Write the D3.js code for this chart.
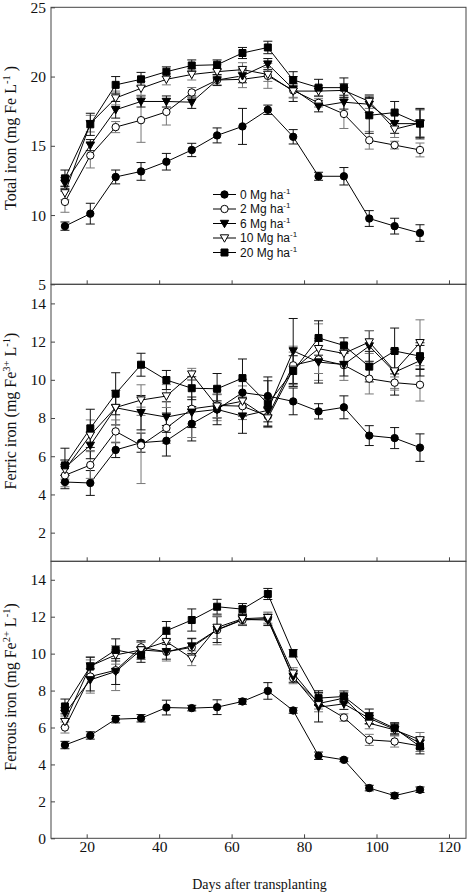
<!DOCTYPE html>
<html><head><meta charset="utf-8">
<script src="https://cdn.jsdelivr.net/npm/d3@7"></script>
<style>
html,body{margin:0;padding:0;background:#fff;}
svg{display:block;}
</style></head>
<body>
<script>
// ---------- DATA ----------
const days = [14,21,28,35,42,49,56,63,70,77,84,91,98,105,112];
const seriesLabels = ["0 Mg ha","2 Mg ha","6 Mg ha","10 Mg ha","20 Mg ha"];
const xTicks = [20,40,60,80,100,120];

// Total iron (mg Fe L-1)
const total0  = [9.2,10.1,12.75,13.15,13.85,14.7,15.75,16.4,17.6,15.65,12.8,12.8,9.75,9.2,8.7];
const total2  = [10.95,14.3,16.35,16.85,17.45,18.85,19.75,19.8,20.05,19.0,18.1,17.3,15.4,15.05,14.7];
const total6  = [12.3,15.05,17.6,18.2,18.2,18.15,19.75,20.05,20.9,19.1,17.85,18.15,18.0,16.6,16.6];
const total10 = [11.6,16.6,18.45,19.15,19.8,20.15,20.35,20.5,20.15,18.95,18.95,19.0,18.2,16.2,16.65];
const total20 = [12.65,16.55,19.4,19.8,20.35,20.8,20.85,21.7,22.1,19.75,19.2,19.2,17.2,17.4,16.6];
const totalErr0  = [0.3,0.75,0.5,0.64,0.6,0.48,0.54,1.3,0.34,0.52,0.29,0.63,0.57,0.57,0.6];
const totalErr2  = [0.75,0.9,0.4,1.6,0.95,0.36,0.35,0.6,0.9,0.5,0.3,1.05,0.64,0.28,0.5];
const totalErr6  = [0.4,0.4,0.6,0.4,0.4,0.45,0.4,0.5,0.4,0.9,0.4,0.5,0.6,0.7,1.0];
const totalErr10 = [0.5,0.6,0.5,0.5,0.4,0.4,0.5,0.5,0.5,0.5,0.4,0.5,0.5,0.6,1.0];
const totalErr20 = [0.6,0.8,0.6,0.5,0.35,0.4,0.35,0.4,0.45,0.6,0.6,0.7,1.3,0.8,1.1];

// Ferric iron (mg Fe3+ L-1)
const ferric0  = [4.65,4.6,6.33,6.71,6.81,7.7,8.45,9.33,9.15,8.87,8.35,8.56,7.08,6.95,6.45];
const ferric2  = [5.0,5.54,7.3,6.57,7.48,8.48,8.66,8.62,8.1,10.76,11.07,10.77,10.06,9.85,9.74];
const ferric6  = [5.4,6.57,8.54,8.28,8.05,8.3,8.45,8.1,8.4,11.51,10.93,10.8,11.77,10.4,11.0];
const ferric10 = [5.3,7.1,8.55,8.94,9.15,10.3,8.62,8.88,8.0,10.55,11.63,11.38,11.98,10.46,11.94];
const ferric20 = [5.52,7.46,9.27,10.79,9.99,9.56,9.53,10.09,8.75,10.46,12.19,11.8,10.69,11.51,11.24];
const ferricErr0  = [0.35,0.65,0.4,0.5,0.8,0.9,0.45,0.7,1.0,0.7,0.4,0.6,0.52,0.55,0.72];
const ferricErr2  = [0.6,0.7,0.6,2.0,0.8,1.5,0.8,0.7,0.5,1.0,1.1,0.8,0.8,0.3,0.85];
const ferricErr6  = [0.4,0.7,0.9,0.9,0.8,0.8,0.8,0.9,0.6,1.7,1.1,0.6,0.8,1.2,0.8];
const ferricErr10 = [0.5,0.8,0.9,0.8,0.6,0.3,0.6,0.8,0.5,0.9,1.3,0.5,0.6,1.0,1.2];
const ferricErr20 = [0.9,1.0,1.1,0.6,0.5,0.6,0.8,1.0,1.2,0.8,0.9,0.4,0.8,1.2,0.7];

// Ferrous iron (mg Fe2+ L-1)
const ferrous0  = [5.05,5.57,6.45,6.5,7.08,7.05,7.1,7.41,7.98,6.92,4.47,4.25,2.72,2.31,2.63];
const ferrous2  = [6.0,8.76,9.1,10.34,10.1,10.34,11.28,11.82,11.9,8.67,7.35,6.54,5.33,5.24,5.0];
const ferrous6  = [6.77,8.58,9.03,10.2,10.1,10.41,11.3,11.85,11.82,8.75,7.1,7.28,6.5,5.9,5.15];
const ferrous10 = [6.32,9.33,9.93,10.2,10.65,9.75,11.42,11.89,11.95,8.94,7.3,7.59,6.23,5.87,5.33];
const ferrous20 = [7.14,9.3,10.2,9.93,11.24,11.82,12.54,12.41,13.23,10.02,7.59,7.68,6.6,5.96,4.97];
const ferrousErr0  = [0.2,0.2,0.2,0.2,0.4,0.15,0.4,0.15,0.45,0.15,0.2,0.1,0.15,0.15,0.15];
const ferrousErr2  = [0.3,0.9,1.1,0.3,0.5,0.5,0.8,0.3,0.3,0.3,0.5,0.2,0.3,0.3,0.3];
const ferrousErr6  = [0.3,0.6,0.7,0.5,0.4,0.4,0.7,0.3,0.3,0.3,0.8,0.3,0.3,0.3,0.3];
const ferrousErr10 = [0.3,0.5,0.5,0.4,0.4,0.4,0.6,0.3,0.3,0.3,0.3,0.3,0.3,0.3,0.4];
const ferrousErr20 = [0.4,0.5,0.6,0.4,0.5,0.6,0.4,0.3,0.3,0.2,0.4,0.3,0.4,0.3,0.4];

const totalTicks = [5,10,15,20,25];
const ferricTicks = [2,4,6,8,10,12,14];
const ferrousTicks = [0,2,4,6,8,10,12,14];

// ---------- LAYOUT ----------
const W = 467, H = 893;
const left = 51, right = 466;
const serif = "'Liberation Serif','Times New Roman',serif";
const sans = "'Liberation Sans',Arial,sans-serif";

const svg = d3.select("body").append("svg").attr("width", W).attr("height", H);
const x = d3.scaleLinear().domain([10.15, 124.7]).range([left, right]);

const markerKinds = ["circleFilled","circleOpen","triFilled","triOpen","square"];
const errColors = ["#111","#777","#111","#777","#111"];

function markerPath(kind){
  if (kind.startsWith("circle")) return d3.symbol().type(d3.symbolCircle).size(Math.PI*3.7*3.7)();
  if (kind === "square") return "M-3.5,-3.5H3.5V3.5H-3.5Z";
  return "M-4.2,-3.2L4.2,-3.2L0,4.2Z";
}
function markerFill(kind){ return (kind === "circleOpen" || kind === "triOpen") ? "#fff" : "#000"; }

const panels = [
  {top:7.3, bottom:284.3, domain:[5,25], ticks:totalTicks, values:[total0,total2,total6,total10,total20],
   errs:[totalErr0,totalErr2,totalErr6,totalErr10,totalErr20],
   title:[["Total iron (mg Fe L",0],["-1",1],[" )",0]], titleY:138},
  {top:284.3, bottom:561.3, domain:[0.5,15], ticks:ferricTicks, values:[ferric0,ferric2,ferric6,ferric10,ferric20],
   errs:[ferricErr0,ferricErr2,ferricErr6,ferricErr10,ferricErr20],
   title:[["Ferric iron (mg Fe",0],["3+",1],[" L",0],["-1",1],[")",0]], titleY:411},
  {top:561.3, bottom:838.3, domain:[0,15], ticks:ferrousTicks, values:[ferrous0,ferrous2,ferrous6,ferrous10,ferrous20],
   errs:[ferrousErr0,ferrousErr2,ferrousErr6,ferrousErr10,ferrousErr20],
   title:[["Ferrous iron (mg Fe",0],["2+",1],[" L",0],["-1",1],[")",0]], titleY:687}
];

panels.forEach((p, pi) => {
  const y = d3.scaleLinear().domain(p.domain).range([p.bottom, p.top]);
  const g = svg.append("g");

  // frame
  g.append("rect").attr("x", left).attr("y", p.top).attr("width", right-left).attr("height", p.bottom-p.top)
    .attr("fill","none").attr("stroke","#444").attr("stroke-width",1);

  // y axis (ticks inward)
  const yAxis = d3.axisLeft(y).tickValues(p.ticks).tickSizeInner(-4).tickSizeOuter(0).tickPadding(5).tickFormat(d3.format("d"));
  const ya = g.append("g").attr("transform",`translate(${left},0)`).call(yAxis);
  ya.select(".domain").remove();
  ya.selectAll("line").attr("stroke","#444");
  ya.selectAll("text").attr("font-family",serif).attr("font-size",15.5).attr("fill","#111");

  // x axis ticks inward
  const xAxis = d3.axisBottom(x).tickValues(xTicks).tickSizeInner(-4).tickSizeOuter(0).tickPadding(3)
    .tickFormat(pi === 2 ? d3.format("d") : () => "");
  const xa = g.append("g").attr("transform",`translate(0,${p.bottom})`).call(xAxis);
  xa.select(".domain").remove();
  xa.selectAll("line").attr("stroke","#444");
  xa.selectAll("text").attr("font-family",serif).attr("font-size",15.5).attr("fill","#111");

  // y title
  const t = g.append("text").attr("transform",`translate(16,${p.titleY}) rotate(-90)`)
    .attr("text-anchor","middle").attr("font-family",serif).attr("font-size",16).attr("fill","#111");
  p.title.forEach(([s, sup], i) => {
    const prevSup = i>0 ? p.title[i-1][1] : 0;
    const ts = t.append("tspan").text(s).attr("dy", sup && !prevSup ? -6 : (!sup && prevSup ? 6 : 0));
    if (sup) ts.attr("font-size",10.5);
  });

  // series
  const line = d3.line().x((d,i)=>x(days[i])).y(d=>y(d));
  p.values.forEach((vals, si) => {
    const sg = g.append("g");
    vals.forEach((v,i) => {
      const e = p.errs[si][i];
      const cx = x(days[i]);
      const c = errColors[si];
      sg.append("line").attr("x1",cx).attr("x2",cx).attr("y1",y(v-e)).attr("y2",y(v+e)).attr("stroke",c).attr("stroke-width",1);
      [v-e, v+e].forEach(w => sg.append("line").attr("x1",cx-4.5).attr("x2",cx+4.5).attr("y1",y(w)).attr("y2",y(w))
        .attr("stroke",c).attr("stroke-width",1));
    });
    sg.append("path").attr("d", line(vals)).attr("fill","none").attr("stroke","#000").attr("stroke-width",1);
  });
  p.values.forEach((vals, si) => {
    const kind = markerKinds[si];
    g.append("g").selectAll("path").data(vals).join("path")
      .attr("d", markerPath(kind))
      .attr("transform",(d,i)=>`translate(${x(days[i])},${y(d)})`)
      .attr("fill", markerFill(kind)).attr("stroke","#000").attr("stroke-width",1);
  });

  // legend in top panel
  if (pi === 0) {
    const lg = svg.append("g");
    seriesLabels.forEach((lab, si) => {
      const ly = 194.5 + si*14.5;
      lg.append("line").attr("x1",213).attr("x2",236).attr("y1",ly).attr("y2",ly).attr("stroke","#000");
      lg.append("path").attr("d", markerPath(markerKinds[si])).attr("transform",`translate(224.5,${ly})`)
        .attr("fill", markerFill(markerKinds[si])).attr("stroke","#000");
      const tt = lg.append("text").attr("x",240).attr("y",ly+4.3).attr("font-family",sans).attr("font-size",12).attr("fill","#111");
      tt.append("tspan").text(lab);
      tt.append("tspan").attr("font-size",8).attr("dy",-5).text("-1");
    });
  }
});

// x title
svg.append("text").attr("x", 259.5).attr("y", 889).attr("text-anchor","middle")
  .attr("font-family",serif).attr("font-size",14).attr("fill","#111").text("Days after transplanting");
</script>
</body></html>
